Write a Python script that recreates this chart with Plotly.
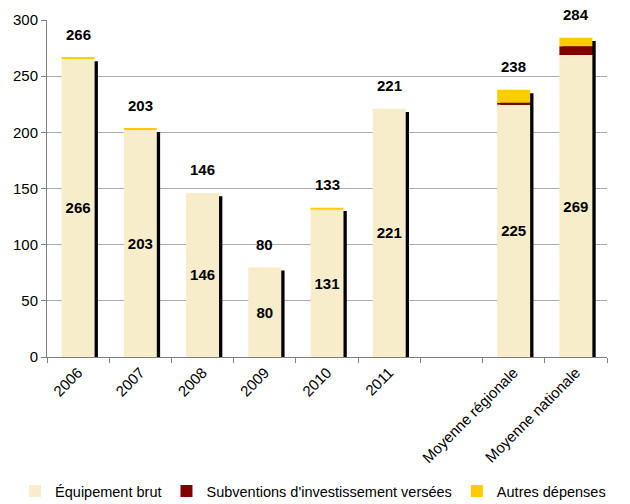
import numpy as np
import plotly.graph_objects as go

# Dépenses d'investissement (€ par habitant)
categories = ["2006", "2007", "2008", "2009", "2010", "2011", " ",
              "Moyenne régionale", "Moyenne nationale"]
equipement = [265.6, 202.6, 146.0, 80.0, 131.0, 221.0, None, 224.6, 268.8]
subventions = [0.0, 0.0, 0.0, 0.0, 0.0, 0.0, None, 1.8, 7.8]
autres = [0.6, 0.6, 0.0, 0.0, 1.8, 0.0, None, 11.4, 7.6]

series_names = ["Équipement brut", "Subventions d'investissement versées", "Autres dépenses"]
colors = ["#F7EDCB", "#800000", "#FFCC00"]

FONT = "Arial, Liberation Sans, sans-serif"

def arr(v):
    return np.array([np.nan if x is None else x for x in v], dtype=float)

eq, sv, au = arr(equipement), arr(subventions), arr(autres)
totals = eq + sv + au

bar_w = 0.53
px_per_cat = 560 / len(categories)
px_per_unit = 337 / 300
shadow_dx = 3.3 / px_per_cat
shadow_dy = 3.3 / px_per_unit

fig = go.Figure()

# drop shadow behind each stacked column
fig.add_trace(go.Bar(
    x=categories, y=totals, base=-shadow_dy, width=bar_w,
    offset=-bar_w / 2 + shadow_dx, marker=dict(color="black", line=dict(width=0)),
    showlegend=False, hoverinfo="skip",
))

bases = [np.zeros_like(eq), eq, eq + sv]
for vals, base, name, col in zip([eq, sv, au], bases, series_names, colors):
    kw = {}
    if name == series_names[0]:
        kw = dict(text=[("" if np.isnan(v) else f"{v:.0f}") for v in vals],
                  textposition="inside", insidetextanchor="middle", textangle=0,
                  textfont=dict(family=FONT, size=15, color="black", weight="bold"))
    fig.add_trace(go.Bar(
        x=categories, y=vals, base=base, width=bar_w, offset=-bar_w / 2,
        name=name, marker=dict(color=col, line=dict(width=0)), **kw,
    ))

# totals above each column (category index on the x axis)
for i, t in enumerate(totals):
    if np.isnan(t):
        continue
    fig.add_annotation(x=i, y=t, xref="x", yref="y", text=f"<b>{t:.0f}</b>",
                       showarrow=False, yshift=23,
                       font=dict(family=FONT, size=15, color="black"))

fig.update_layout(
    width=630, height=504,
    barmode="overlay",
    plot_bgcolor="white", paper_bgcolor="white",
    margin=dict(l=47, r=23, t=20, b=147, autoexpand=False),
    font=dict(family=FONT, size=15, color="black"),
    uniformtext=dict(minsize=15, mode="show"),
    legend=dict(orientation="h", xref="paper", yref="paper",
                x=-0.057, xanchor="left", y=-0.398, yanchor="middle",
                font=dict(family=FONT, size=14.5), itemwidth=30,
                traceorder="normal", bgcolor="rgba(0,0,0,0)"),
    showlegend=True,
)
fig.update_xaxes(type="category", categoryorder="array", categoryarray=categories,
                 range=[-0.5, len(categories) - 0.5], automargin=False,
                 tickangle=-45, ticks="outside", tickson="boundaries", ticklen=5,
                 tickcolor="#808080", showline=True, linecolor="#808080",
                 showgrid=False, tickfont=dict(family=FONT, size=15))
fig.update_yaxes(range=[0, 300], dtick=50, ticks="outside", ticklen=5,
                 automargin=False,
                 tickcolor="#808080", showline=True, linecolor="#808080",
                 gridcolor="#ABABAB", zeroline=False,
                 tickfont=dict(family=FONT, size=15))

fig.write_html("out.html")
